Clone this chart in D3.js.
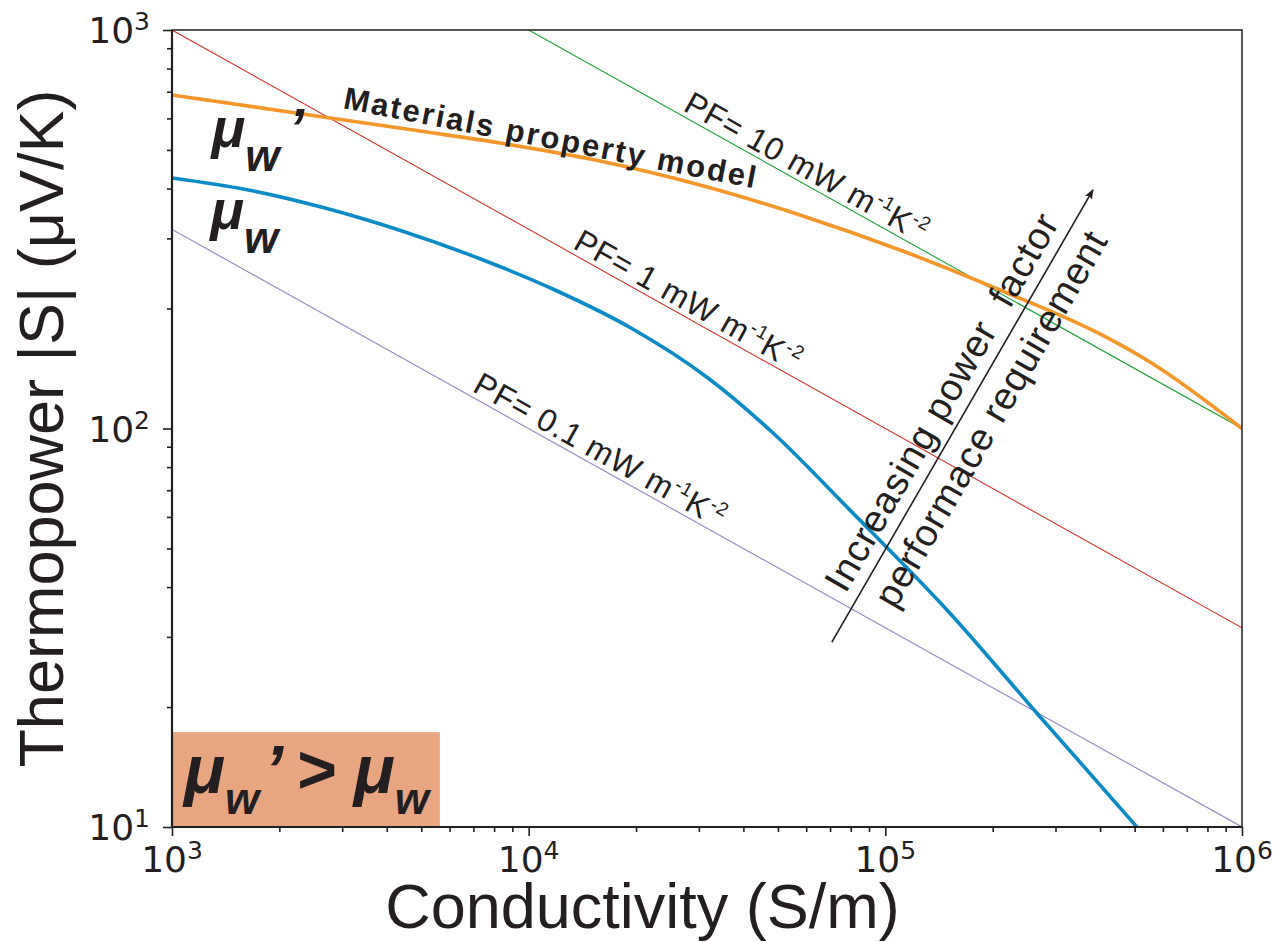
<!DOCTYPE html>
<html>
<head>
<meta charset="utf-8">
<script src="https://cdn.jsdelivr.net/npm/d3@7"></script>
<style>
  body { margin: 0; background: #fff; }
  svg { display: block; }
  .tick-label { font-family: "DejaVu Sans", sans-serif; font-size: 36px; fill: #231f20; }
  .axis-title { font-family: "Liberation Sans", Arial, sans-serif; font-size: 63px; fill: #231f20; }
  .pf-label { font-family: "Liberation Sans", Arial, sans-serif; font-size: 32px; fill: #231f20; letter-spacing: 0.8px; }
  .note { font-family: "Liberation Sans", Arial, sans-serif; fill: #231f20; white-space: pre; }
  .mu { font-family: "Liberation Sans", Arial, sans-serif; font-weight: bold; font-style: italic; fill: #231f20; }
</style>
</head>
<body>
<svg id="chart" width="1285" height="942"></svg>
<script>
// materials property model (mu_w')
const orangeSigma = [1000, 2773, 4959, 8308, 15850, 30220, 57620, 109900, 209600, 399600, 551800, 1000000];
const orangeS = [687, 601.6, 557.9, 520.4, 469.1, 408.3, 343.4, 280.5, 222.6, 172.7, 146.9, 100];

// mu_w curve
const blueSigma = [1000, 1639, 2685, 4414, 7209, 11850, 19360, 31820, 48100, 79580, 151760, 266100, 507500];
const blueS = [425.2, 396.7, 357.5, 313.1, 267.9, 222.6, 178.7, 133.9, 98, 62.4, 34.4, 19.3, 10];

// constant power factor lines (end points)
const pfLabels = ["10", "1", "0.1"];
const pfColors = ["#1fa23a", "#d7342c", "#9583c4"];
const pfSigma = [[1e4, 1e6], [1e3, 1e6], [1e3, 1e6]];
const pfS = [[1000, 100], [1000, 31.6], [316, 10]];
const pfLabelSigma = [26500, 13000, 6800];

const xMajor = [1e3, 1e4, 1e5, 1e6];
const xExp = ["3", "4", "5", "6"];
const yMajor = [10, 100, 1000];
const yExp = ["1", "2", "3"];

// arrow annotation
const arrowFrom = [70800, 29.1];
const arrowTo = [382000, 397];

// shaded box
const boxSigma = [1000, 5637];
const boxS = [10, 17.3];

const W = 1285, H = 942;
const margin = { top: 30, right: 43, bottom: 115, left: 172 };
const svg = d3.select("#chart");

const x = d3.scaleLog().domain([1e3, 1e6]).range([margin.left, W - margin.right]);
const y = d3.scaleLog().domain([10, 1000]).range([H - margin.bottom, margin.top]);

const defs = svg.append("defs");
defs.append("clipPath").attr("id", "plot-clip")
  .append("rect")
  .attr("x", margin.left).attr("y", margin.top)
  .attr("width", W - margin.left - margin.right)
  .attr("height", H - margin.top - margin.bottom);

defs.append("marker")
  .attr("id", "head")
  .attr("viewBox", "0 0 10 10")
  .attr("refX", 9).attr("refY", 5)
  .attr("markerWidth", 10).attr("markerHeight", 10)
  .attr("markerUnits", "userSpaceOnUse")
  .attr("orient", "auto")
  .append("path").attr("d", "M0,1 L10,5 L0,9 L2,5 Z").attr("fill", "#231f20");

const line = d3.line().x((d) => x(d[0])).y((d) => y(d[1])).curve(d3.curveMonotoneX);

// shaded region
svg.append("rect")
  .attr("x", x(boxSigma[0])).attr("y", y(boxS[1]))
  .attr("width", x(boxSigma[1]) - x(boxSigma[0]))
  .attr("height", y(boxS[0]) - y(boxS[1]))
  .attr("fill", "#e8a581");

const plot = svg.append("g").attr("clip-path", "url(#plot-clip)");

// PF lines + labels
pfLabels.forEach((lab, i) => {
  const pts = d3.zip(pfSigma[i], pfS[i]);
  plot.append("path").datum(pts).attr("d", d3.line().x((d) => x(d[0])).y((d) => y(d[1])))
    .attr("fill", "none").attr("stroke", pfColors[i]).attr("stroke-width", 1.1);

  const x0 = x(pts[0][0]), y0 = y(pts[0][1]), x1 = x(pts[1][0]), y1 = y(pts[1][1]);
  const ang = Math.atan2(y1 - y0, x1 - x0) * 180 / Math.PI;
  const lx = x(pfLabelSigma[i]);
  const ly = y0 + (y1 - y0) * (lx - x0) / (x1 - x0);
  const t = svg.append("text").attr("class", "pf-label")
    .attr("transform", `translate(${lx},${ly}) rotate(${ang})`)
    .attr("y", -5);
  t.append("tspan").text(`PF= ${lab} mW m`);
  t.append("tspan").attr("font-size", 19).attr("dy", -13).text("-1");
  t.append("tspan").attr("dy", 13).text("K");
  t.append("tspan").attr("font-size", 19).attr("dy", -13).text("-2");
});

plot.append("path").datum(d3.zip(orangeSigma, orangeS)).attr("d", line)
  .attr("fill", "none").attr("stroke", "#f5962a").attr("stroke-width", 3.6);
plot.append("path").datum(d3.zip(blueSigma, blueS)).attr("d", line)
  .attr("fill", "none").attr("stroke", "#0a8bc8").attr("stroke-width", 3.6);

// axes ticks
const xMinor = x.ticks().filter((v) => !xMajor.includes(v));
const yMinor = y.ticks().filter((v) => !yMajor.includes(v));

function styleAxis(g) {
  g.select(".domain").remove();
  g.selectAll(".tick line").attr("stroke", "#231f20").attr("stroke-width", 1.6);
}
svg.append("g").attr("transform", `translate(0,${y(10)})`)
  .call(d3.axisBottom(x).tickValues(xMinor).tickSize(5).tickFormat("")).call(styleAxis);
svg.append("g").attr("transform", `translate(0,${y(10)})`)
  .call(d3.axisBottom(x).tickValues(xMajor).tickSize(9).tickFormat("")).call(styleAxis);
svg.append("g").attr("transform", `translate(${x(1e3)},0)`)
  .call(d3.axisLeft(y).tickValues(yMinor).tickSize(5).tickFormat("")).call(styleAxis);
svg.append("g").attr("transform", `translate(${x(1e3)},0)`)
  .call(d3.axisLeft(y).tickValues(yMajor).tickSize(9).tickFormat("")).call(styleAxis);

// frame
svg.append("rect")
  .attr("x", x(1e3)).attr("y", y(1000))
  .attr("width", x(1e6) - x(1e3)).attr("height", y(10) - y(1000))
  .attr("fill", "none").attr("stroke", "#231f20").attr("stroke-width", 1.5);
svg.append("path")
  .attr("d", `M${x(1e3)},${y(1000)}V${y(10)}H${x(1e6)}`)
  .attr("fill", "none").attr("stroke", "#231f20").attr("stroke-width", 2.2);

// tick labels
xMajor.forEach((v, i) => {
  const t = svg.append("text").attr("class", "tick-label")
    .attr("x", x(v)).attr("y", y(10) + 45).attr("text-anchor", "middle");
  t.append("tspan").text("10");
  t.append("tspan").attr("font-size", 25).attr("dy", -13).text(xExp[i]);
});
yMajor.forEach((v, i) => {
  const t = svg.append("text").attr("class", "tick-label")
    .attr("x", x(1e3) - 22).attr("y", y(v) + 13).attr("text-anchor", "end");
  t.append("tspan").text("10");
  t.append("tspan").attr("font-size", 25).attr("dy", -13).text(yExp[i]);
});

// axis titles
svg.append("text").attr("class", "axis-title")
  .attr("x", W / 2).attr("y", 928).attr("font-size", 62).attr("text-anchor", "middle")
  .text("Conductivity (S/m)");
svg.append("text").attr("class", "axis-title")
  .attr("transform", `translate(63,${(y(10) + y(1000)) / 2}) rotate(-90)`)
  .attr("text-anchor", "middle")
  .text("Thermopower |S| (\u03bcV/K)");

// materials property model label
svg.append("text").attr("class", "note")
  .attr("transform", `translate(${x(3000)},${y(637)}) rotate(11)`)
  .attr("font-size", 31).attr("font-weight", "bold").attr("letter-spacing", 2.2)
  .text("Materials property model");

// mu labels
function muLabel(px, py, prime) {
  const t = svg.append("text").attr("class", "mu").attr("x", px).attr("y", py).attr("font-size", 56);
  t.append("tspan").text("\u03bc");
  t.append("tspan").attr("font-size", 44).attr("dy", 24).text("w");
  if (prime) t.append("tspan").attr("dy", -24).attr("dx", 9).text("\u2019");
  return t;
}
muLabel(x(1290), y(510), true);
muLabel(x(1280), y(317), false);

const bx = x(boxSigma[0]), by = y(12.17);
const boxT = svg.append("text").attr("class", "mu")
  .attr("x", bx + 12).attr("y", by).attr("font-size", 68);
boxT.append("tspan").text("\u03bc");
boxT.append("tspan").attr("font-size", 44).attr("dy", 21).text("w");
boxT.append("tspan").attr("dy", -21).attr("dx", 5).text("\u2019");
boxT.append("tspan").attr("x", bx + 124).text(">");
boxT.append("tspan").attr("dx", 18).text("\u03bc");
boxT.append("tspan").attr("font-size", 44).attr("dy", 21).text("w");

// arrow + text
const ax0 = x(arrowFrom[0]), ay0 = y(arrowFrom[1]), ax1 = x(arrowTo[0]), ay1 = y(arrowTo[1]);
svg.append("line")
  .attr("x1", ax0).attr("y1", ay0).attr("x2", ax1).attr("y2", ay1)
  .attr("stroke", "#231f20").attr("stroke-width", 1.6).attr("marker-end", "url(#head)");
const aang = Math.atan2(ay1 - ay0, ax1 - ax0) * 180 / Math.PI;
const arrowText = svg.append("g")
  .attr("transform", `translate(${(ax0 + ax1) / 2},${(ay0 + ay1) / 2}) rotate(${aang})`);
arrowText.append("text").attr("class", "note").attr("font-size", 38)
  .attr("x", 2).attr("y", -12).attr("text-anchor", "middle").attr("letter-spacing", 1)
  .text("Increasing power  factor");
arrowText.append("text").attr("class", "note").attr("font-size", 38)
  .attr("x", 12).attr("y", 39).attr("text-anchor", "middle").attr("letter-spacing", 1)
  .text("performace requirement");
</script>
</body>
</html>
